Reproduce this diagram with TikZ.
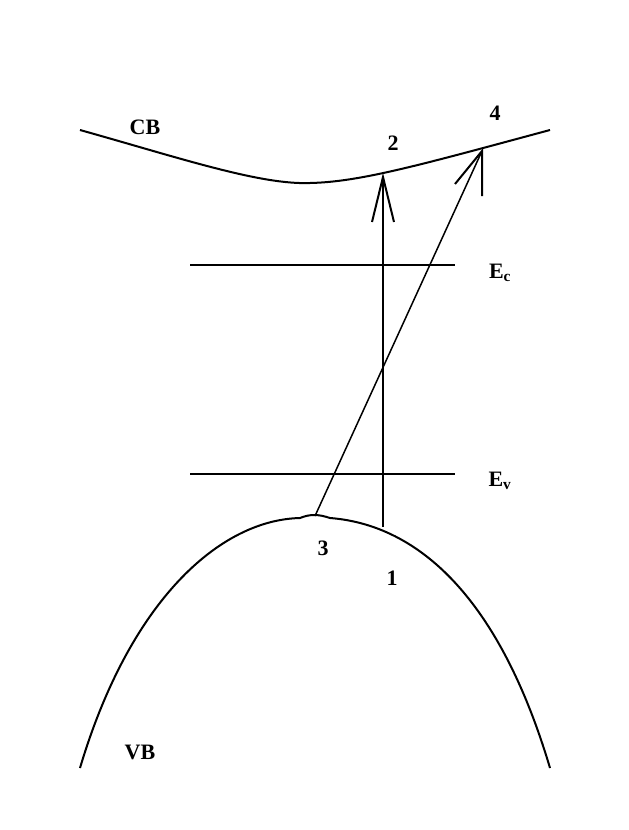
\documentclass[tikz,border=0pt]{standalone}
\usepackage{fontspec}
\setmainfont{Liberation Serif}
\begin{document}
\begin{tikzpicture}[x=1pt,y=-1pt,line width=2pt,
  lbl/.style={font=\fontsize{22}{22}\selectfont\bfseries,inner sep=0pt}]
\useasboundingbox (0,0) rectangle (629,830);
% CB
\draw (80,130) .. controls (180,158) and (260,185) .. (310,183)
  .. controls (360,182) and (420,165) .. (550,130);
% VB
\draw (80,768) .. controls (130,600) and (220,520) .. (300,518)
  .. controls (310,514) and (318,514) .. (330,518)
  .. controls (420,525) and (500,600) .. (550,768);
% levels
\draw (190,265) -- (455,265);
\draw (190,474) -- (455,474);
% vertical transition
\coordinate (p1) at (383,527);
\coordinate (p2) at (383,177);
\draw (p1) -- (p2);
\draw (372,222) -- (p2) -- (394,222);
% oblique transition
\coordinate (p3) at (315,516);
\coordinate (p4) at (482,151);
\draw[line width=1.5pt] (p3) -- (p4);
\draw (455,184) -- (p4) -- (482,196);
% labels
\node[lbl] (cb) at (145,127) {CB};
\node[lbl] (vb) at (140,752) {VB};
\node[lbl] (n2) at (393,143) {2};
\node[lbl] (n4) at (495,113) {4};
\node[lbl] (n3) at (323,548) {3};
\node[lbl] (n1) at (392,578) {1};
\node[lbl] (ec) at (500,273) {E\textsubscript{c}};
\node[lbl] (ev) at (500,481) {E\textsubscript{v}};
\end{tikzpicture}
\end{document}
